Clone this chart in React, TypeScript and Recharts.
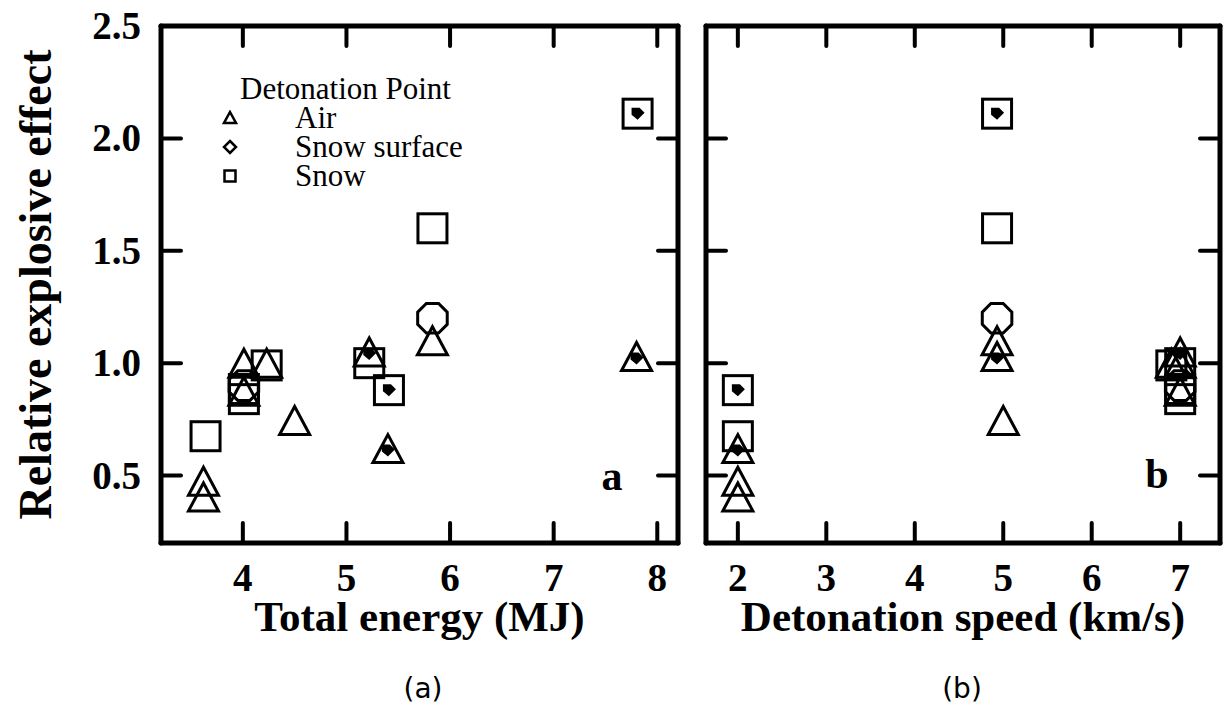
import React from "react"
import { ScatterChart, Scatter, XAxis, YAxis, Legend, Label } from "recharts"

const SERIF = '"Liberation Serif", "Times New Roman", serif'
const SANS = '"DejaVu Sans", Verdana, sans-serif'
const INK = "#000"

// Air detonation (triangles)
const airEnergy = [3.62, 3.62, 4.01, 4.01, 4.23, 4.5, 5.22, 5.4, 5.83, 7.8]
const airSpeed = [2.0, 2.0, 7.0, 7.0, 6.9, 5.0, 7.0, 2.0, 4.93, 4.93]
const airEffect = [0.475, 0.405, 1.0, 0.875, 1.0, 0.745, 1.05, 0.62, 1.1, 1.03]
const airSolid = [false, false, false, false, false, false, true, true, false, true]

// Snow surface detonation (circles)
const surfEnergy = [4.01, 5.83]
const surfSpeed = [7.0, 4.93]
const surfEffect = [0.9, 1.2]

// Snow detonation (squares)
const snowEnergy = [3.64, 4.01, 4.01, 4.23, 5.22, 5.41, 5.83, 7.81]
const snowSpeed = [2.0, 7.0, 7.0, 6.9, 7.0, 2.0, 4.93, 4.93]
const snowEffect = [0.675, 0.885, 0.84, 0.99, 1.0, 0.88, 1.6, 2.11]
const snowSolid = [false, false, false, false, false, true, false, true]

const effectTicks = [0.5, 1.0, 1.5, 2.0, 2.5]
const energyTicks = [4, 5, 6, 7, 8]
const speedTicks = [2, 3, 4, 5, 6, 7]

const effectDomain: [number, number] = [0.2, 2.5]
const energyDomain: [number, number] = [3.21, 8.2]
const speedDomain: [number, number] = [1.64, 7.45]

const TICK_LEN = 20
const TICK_FONT = 39
const axisLine = { stroke: INK, strokeWidth: 5, strokeLinecap: "round" as const }

type Pt = { x: number; y: number; solid: boolean }

function pts(xs: number[], ys: number[], solid?: boolean[]): Pt[] {
  return xs.map((x, i) => ({ x, y: ys[i], solid: solid ? solid[i] : false }))
}

function Blob({ cx, cy }: { cx: number; cy: number }) {
  const p = [[-6, -6], [2, -6], [7, -1], [0, 6], [-6, 1]]
  return <polygon points={p.map(([dx, dy]) => `${cx + dx},${cy + dy}`).join(" ")} fill={INK} />
}

function TriangleShape(props: any) {
  const { cx, cy, payload } = props
  const w = 30
  const h = 28
  return (
    <g>
      <polygon
        points={`${cx},${cy - h / 2} ${cx + w / 2},${cy + h / 2} ${cx - w / 2},${cy + h / 2}`}
        fill="none"
        stroke={INK}
        strokeWidth={3}
      />
      {payload?.solid && <Blob cx={cx} cy={cy + 2} />}
    </g>
  )
}

function SquareShape(props: any) {
  const { cx, cy, payload } = props
  const s = 29
  return (
    <g>
      <rect x={cx - s / 2} y={cy - s / 2} width={s} height={s} fill="none" stroke={INK} strokeWidth={3} />
      {payload?.solid && <Blob cx={cx} cy={cy} />}
    </g>
  )
}

function CircleShape(props: any) {
  const { cx, cy } = props
  const r = 16
  const p: string[] = []
  for (let k = 0; k < 8; k++) {
    const a = ((22.5 + k * 45) * Math.PI) / 180
    p.push(`${cx + r * Math.cos(a)},${cy + r * Math.sin(a)}`)
  }
  return <polygon points={p.join(" ")} fill="none" stroke={INK} strokeWidth={3} />
}

// invisible marks so the mirrored top/right axes have a series bound to them
function NoShape() {
  return <g />
}

const tickText = {
  fontFamily: SERIF,
  fontWeight: "bold" as const,
  fontSize: TICK_FONT,
  fill: INK,
}

function BottomTick(props: any) {
  const { x, y, payload } = props
  return (
    <g>
      <line x1={x} x2={x} y1={y} y2={y - TICK_LEN} stroke={INK} strokeWidth={4} strokeLinecap="round" />
      <text x={x} y={y + 48} textAnchor="middle" {...tickText}>
        {payload.value}
      </text>
    </g>
  )
}

function TopTick(props: any) {
  const { x, y } = props
  return <line x1={x} x2={x} y1={y} y2={y + TICK_LEN} stroke={INK} strokeWidth={4} strokeLinecap="round" />
}

function LeftTick(props: any) {
  const { x, y, payload, labels } = props
  return (
    <g>
      <line x1={x} x2={x + TICK_LEN} y1={y} y2={y} stroke={INK} strokeWidth={4} strokeLinecap="round" />
      {labels && (
        <text x={x - 20} y={y + 13} textAnchor="end" {...tickText}>
          {Number(payload.value).toFixed(1)}
        </text>
      )}
    </g>
  )
}

function RightTick(props: any) {
  const { x, y } = props
  return <line x1={x} x2={x - TICK_LEN} y1={y} y2={y} stroke={INK} strokeWidth={4} strokeLinecap="round" />
}

function XTitle({ viewBox, text }: any) {
  const { x, y, width } = viewBox
  return (
    <text x={x + width / 2} y={y + 88} textAnchor="middle" fontFamily={SERIF} fontWeight="bold" fontSize={43} fill={INK}>
      {text}
    </text>
  )
}

function YTitle({ viewBox }: any) {
  const { x, y, height } = viewBox
  const cx = x + 24
  const cy = y + height / 2
  return (
    <text
      x={cx}
      y={cy}
      transform={`rotate(-90 ${cx} ${cy})`}
      textAnchor="middle"
      dominantBaseline="central"
      fontFamily={SERIF}
      fontWeight="bold"
      fontSize={46}
      fill={INK}
    >
      Relative explosive effect
    </text>
  )
}

const legendRows = [
  { name: "Air", kind: "tri" },
  { name: "Snow surface", kind: "dia" },
  { name: "Snow", kind: "sq" },
]

function LegendIcon({ kind }: { kind: string }) {
  return (
    <svg width={16} height={16} style={{ display: "block" }}>
      {kind === "tri" && <polygon points="8,2 14,13 2,13" fill="none" stroke={INK} strokeWidth={2.5} />}
      {kind === "dia" && <polygon points="8,2 14,8 8,14 2,8" fill="none" stroke={INK} strokeWidth={2.5} />}
      {kind === "sq" && <rect x={2.5} y={2.5} width={11} height={11} fill="none" stroke={INK} strokeWidth={2.5} />}
    </svg>
  )
}

function DetonationLegend() {
  return (
    <div style={{ fontFamily: SERIF, fontSize: 31, lineHeight: "29px", color: INK, whiteSpace: "nowrap" }}>
      <div style={{ paddingLeft: 18 }}>Detonation Point</div>
      {legendRows.map((r) => (
        <div key={r.name} style={{ display: "flex", alignItems: "center", height: 29 }}>
          <div style={{ width: 73 }}>
            <LegendIcon kind={r.kind} />
          </div>
          <span>{r.name}</span>
        </div>
      ))}
    </div>
  )
}

type PanelProps = {
  width: number
  marginLeft: number
  marginRight: number
  xDomain: [number, number]
  xTicks: number[]
  xTitle: string
  air: Pt[]
  surf: Pt[]
  snow: Pt[]
  yLabels: boolean
  legend: boolean
}

function Panel(p: PanelProps) {
  return (
    <ScatterChart
      width={p.width}
      height={717}
      margin={{ top: 25, right: p.marginRight, bottom: 74, left: p.marginLeft }}
    >
      <XAxis
        type="number"
        dataKey="x"
        domain={p.xDomain}
        ticks={p.xTicks}
        interval={0}
        allowDataOverflow
        height={100}
        tickSize={0}
        tickMargin={0}
        tickLine={false}
        axisLine={axisLine}
        tick={(t: any) => <BottomTick {...t} />}
      >
        <Label content={(l: any) => <XTitle {...l} text={p.xTitle} />} />
      </XAxis>
      <XAxis
        xAxisId="top"
        orientation="top"
        type="number"
        dataKey="x"
        domain={p.xDomain}
        ticks={p.xTicks}
        interval={0}
        allowDataOverflow
        height={1}
        tickSize={0}
        tickMargin={0}
        tickLine={false}
        axisLine={axisLine}
        tick={(t: any) => <TopTick {...t} />}
      />
      <YAxis
        type="number"
        dataKey="y"
        domain={effectDomain}
        ticks={effectTicks}
        interval={0}
        allowDataOverflow
        width={p.yLabels ? 150 : 1}
        tickSize={0}
        tickMargin={0}
        tickLine={false}
        axisLine={axisLine}
        tick={(t: any) => <LeftTick {...t} labels={p.yLabels} />}
      >
        {p.yLabels && <Label content={(l: any) => <YTitle {...l} />} />}
      </YAxis>
      <YAxis
        yAxisId="right"
        orientation="right"
        type="number"
        dataKey="y"
        domain={effectDomain}
        ticks={effectTicks}
        interval={0}
        allowDataOverflow
        width={1}
        tickSize={0}
        tickMargin={0}
        tickLine={false}
        axisLine={axisLine}
        tick={(t: any) => <RightTick {...t} />}
      />
      {p.legend && (
        <Legend
          layout="vertical"
          align="center"
          verticalAlign="middle"
          wrapperStyle={{ left: 222, top: 74, width: "auto" }}
          content={() => <DetonationLegend />}
        />
      )}
      <Scatter
        xAxisId="top"
        yAxisId="right"
        data={p.snow}
        shape={NoShape}
        legendType="none"
        isAnimationActive={false}
      />
      <Scatter name="Snow" data={p.snow} shape={SquareShape} isAnimationActive={false} />
      <Scatter name="Snow surface" data={p.surf} shape={CircleShape} isAnimationActive={false} />
      <Scatter name="Air" data={p.air} shape={TriangleShape} isAnimationActive={false} />
    </ScatterChart>
  )
}

const tagStyle: React.CSSProperties = {
  position: "absolute",
  fontFamily: SERIF,
  fontWeight: "bold",
  fontSize: 42,
  lineHeight: "42px",
  transform: "translateX(-50%)",
}

const captionStyle: React.CSSProperties = {
  position: "absolute",
  fontFamily: SANS,
  fontSize: 28,
  lineHeight: "30px",
  transform: "translateX(-50%)",
}

export default function App() {
  return (
    <div style={{ position: "absolute", left: 0, top: 0, width: 1225, height: 717, background: "#fff" }}>
      <div style={{ position: "absolute", left: 0, top: 0 }}>
        <Panel
          width={690}
          marginLeft={11}
          marginRight={11}
          xDomain={energyDomain}
          xTicks={energyTicks}
          xTitle="Total energy (MJ)"
          air={pts(airEnergy, airEffect, airSolid)}
          surf={pts(surfEnergy, surfEffect)}
          snow={pts(snowEnergy, snowEffect, snowSolid)}
          yLabels
          legend
        />
      </div>
      <div style={{ position: "absolute", left: 690, top: 0 }}>
        <Panel
          width={535}
          marginLeft={15}
          marginRight={4}
          xDomain={speedDomain}
          xTicks={speedTicks}
          xTitle="Detonation speed (km/s)"
          air={pts(airSpeed, airEffect, airSolid)}
          surf={pts(surfSpeed, surfEffect)}
          snow={pts(snowSpeed, snowEffect, snowSolid)}
          yLabels={false}
          legend={false}
        />
      </div>
      <div style={{ ...tagStyle, left: 612, top: 455 }}>a</div>
      <div style={{ ...tagStyle, left: 1157, top: 453 }}>b</div>
      <div style={{ ...captionStyle, left: 423, top: 674 }}>(a)</div>
      <div style={{ ...captionStyle, left: 962, top: 674 }}>(b)</div>
    </div>
  )
}
